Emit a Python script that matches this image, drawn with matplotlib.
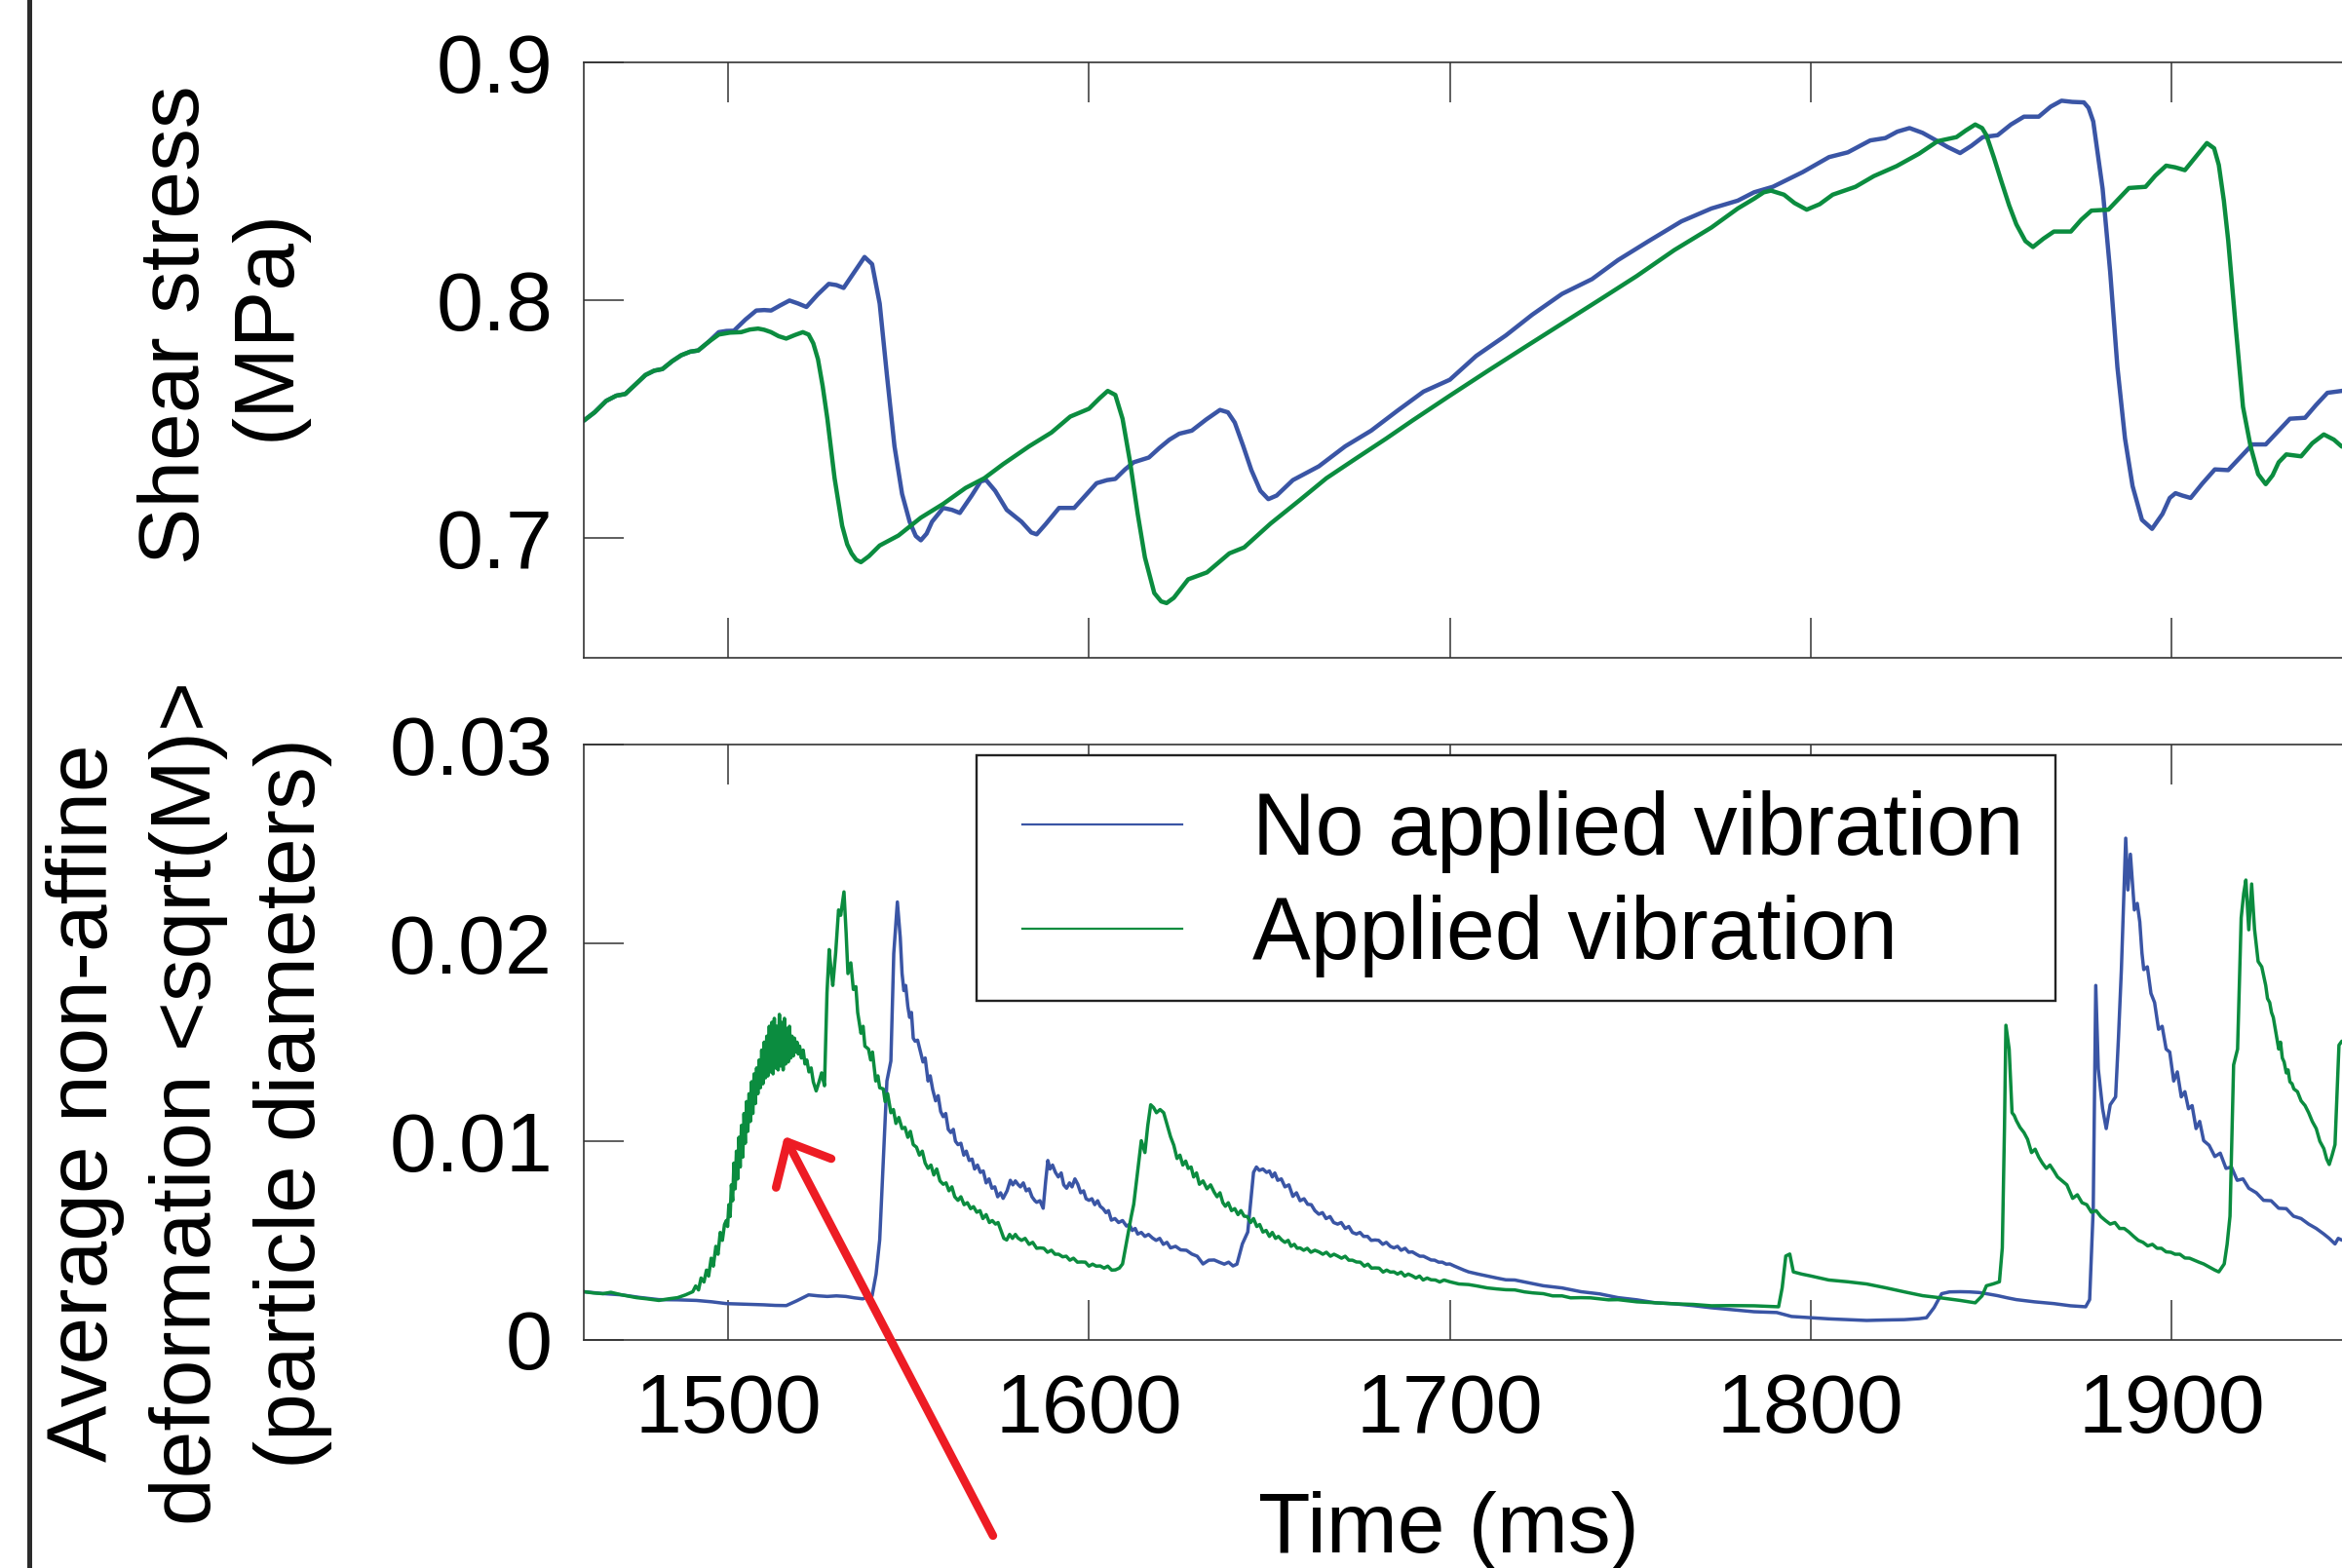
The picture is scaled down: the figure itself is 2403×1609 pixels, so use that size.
import matplotlib
matplotlib.use("Agg")
import matplotlib.pyplot as plt
from matplotlib.lines import Line2D
from matplotlib.patches import ArrowStyle, Rectangle

plt.rcParams['font.family'] = ['Liberation Sans', 'DejaVu Sans']

# ---------------- data (time ms, value) ----------------
series_labels = ["No applied vibration", "Applied vibration"]
colors = ["#3a55a5", "#0b8c3f"]

# top panel: shear stress (MPa)
stress_none = [
    (1460, 0.7495), (1463, 0.7530), (1466.2, 0.7578), (1469, 0.7600), (1471.5, 0.7607), (1474.5, 0.7650),
    (1477.1, 0.7687), (1479.5, 0.7705), (1481.8, 0.7712), (1484.5, 0.7745), (1487, 0.7770), (1489.5, 0.7785),
    (1491.7, 0.7790), (1494.5, 0.7825), (1497.4, 0.7867), (1499.5, 0.7872), (1501.6, 0.7873), (1504.8, 0.7920),
    (1507.8, 0.7958), (1510, 0.7960), (1511.9, 0.7958), (1514.5, 0.7980), (1517, 0.8000), (1519.3, 0.7988),
    (1521.7, 0.7973), (1524.8, 0.8025), (1527.9, 0.8070), (1530, 0.8065), (1532, 0.8053), (1535, 0.8120),
    (1537.8, 0.8183), (1539.9, 0.8153), (1542, 0.7987), (1544, 0.7687), (1546.1, 0.7387), (1548.2, 0.7187),
    (1550.3, 0.7070), (1552, 0.7010), (1553.4, 0.6992), (1555, 0.7020), (1556.5, 0.7070), (1559.6, 0.7128),
    (1562, 0.7120), (1564.2, 0.7107), (1567.5, 0.7180), (1570, 0.7240), (1571.5, 0.7245), (1574, 0.7200),
    (1577.2, 0.7120), (1581.3, 0.7070), (1584, 0.7025), (1585.5, 0.7017), (1588, 0.7060), (1591.7, 0.7128),
    (1595.9, 0.7128), (1599, 0.7180), (1602.1, 0.7232), (1605, 0.7245), (1607.3, 0.7250), (1610, 0.7290),
    (1612.4, 0.7320), (1616.6, 0.7340), (1619.5, 0.7380), (1622.3, 0.7415), (1625, 0.7440), (1628.5, 0.7453),
    (1632.5, 0.7500), (1636.3, 0.7540), (1638.5, 0.7530), (1640.4, 0.7487), (1642.7, 0.7390), (1645, 0.7287),
    (1647.5, 0.7200), (1649.7, 0.7165), (1652, 0.7180), (1656.5, 0.7245), (1663.7, 0.7303), (1671, 0.7387),
    (1678.2, 0.7453), (1685.5, 0.7537), (1692.7, 0.7617), (1700, 0.7667), (1707.3, 0.7767), (1715.5, 0.7853),
    (1722.8, 0.7940), (1731.1, 0.8028), (1739.4, 0.8090), (1746.6, 0.8170), (1754.9, 0.8248), (1764.2, 0.8333),
    (1772.5, 0.8387), (1779.8, 0.8420), (1784.3, 0.8455), (1789.5, 0.8478), (1797.8, 0.8540), (1805.1, 0.8603),
    (1810.3, 0.8623), (1816.5, 0.8673), (1820.7, 0.8683), (1824, 0.8710), (1827.4, 0.8725), (1831, 0.8705),
    (1834.2, 0.8678), (1838, 0.8645), (1841.4, 0.8620), (1844.5, 0.8650), (1847.7, 0.8687), (1851.8, 0.8695),
    (1855.5, 0.8740), (1859.1, 0.8773), (1863.2, 0.8773), (1866.5, 0.8815), (1869.5, 0.8840), (1872.5, 0.8835),
    (1875.7, 0.8833), (1877, 0.8810), (1878.3, 0.8753), (1880.9, 0.8470), (1883, 0.8120), (1885, 0.7720),
    (1887.1, 0.7420), (1889.2, 0.7220), (1891.8, 0.7078), (1894.6, 0.7040), (1897.5, 0.7103), (1899.5, 0.7170),
    (1901.1, 0.7190), (1903, 0.7180), (1905.3, 0.7170), (1908.5, 0.7230), (1912, 0.7290), (1915.7, 0.7287),
    (1919, 0.7340), (1922.4, 0.7395), (1926.1, 0.7395), (1929.5, 0.7450), (1932.8, 0.7503), (1937, 0.7507),
    (1940, 0.7560), (1943.2, 0.7612), (1947.1, 0.7620), (1950, 0.7625)]

stress_vib = [
    (1460, 0.7495), (1463, 0.7530), (1466.2, 0.7578), (1469, 0.7600), (1471.5, 0.7607), (1474.5, 0.7650),
    (1477.1, 0.7687), (1479.5, 0.7705), (1481.8, 0.7712), (1484.5, 0.7745), (1487, 0.7770), (1489.5, 0.7785),
    (1491.7, 0.7790), (1494.5, 0.7825), (1497.4, 0.7857), (1500.5, 0.7865), (1503.6, 0.7867), (1506, 0.7878),
    (1508.3, 0.7882), (1510, 0.7877), (1511.9, 0.7867), (1514, 0.7850), (1516.1, 0.7840), (1518.5, 0.7855),
    (1520.7, 0.7867), (1522.3, 0.7857), (1523.6, 0.7820), (1524.9, 0.7753), (1526.2, 0.7640), (1527.5, 0.7503),
    (1529.5, 0.7253), (1531.6, 0.7053), (1533, 0.6975), (1534.2, 0.6937), (1535.5, 0.6910), (1536.8, 0.6900),
    (1539, 0.6925), (1542, 0.6970), (1547.2, 0.7012), (1553.4, 0.7087), (1559.6, 0.7145), (1565.8, 0.7212),
    (1571, 0.7253), (1576.2, 0.7312), (1583.4, 0.7387), (1589.6, 0.7445), (1594.8, 0.7512), (1600, 0.7545),
    (1603, 0.7590), (1605.2, 0.7620), (1607.3, 0.7603), (1609.3, 0.7503), (1611.4, 0.7320), (1613.5, 0.7103),
    (1615.5, 0.6920), (1618.1, 0.6770), (1620, 0.6735), (1621.5, 0.6728), (1623.5, 0.6750), (1627.5, 0.6828),
    (1632.7, 0.6857), (1638.9, 0.6937), (1643, 0.6962), (1650.3, 0.7062), (1658.5, 0.7162), (1665.8, 0.7253),
    (1674.1, 0.7337), (1682.4, 0.7420), (1689.6, 0.7495), (1700, 0.7600), (1710.4, 0.7703), (1720.7, 0.7803),
    (1731.1, 0.7903), (1741.5, 0.8003), (1751.8, 0.8103), (1762.2, 0.8212), (1772.5, 0.8307), (1779.8, 0.8387),
    (1784.3, 0.8428), (1787, 0.8455), (1789, 0.8462), (1792.6, 0.8445), (1795.5, 0.8410), (1798.9, 0.8382),
    (1802.5, 0.8405), (1806.1, 0.8445), (1812.4, 0.8478), (1817.5, 0.8523), (1823.8, 0.8565), (1830, 0.8617),
    (1835.2, 0.8670), (1840.4, 0.8687), (1843, 0.8715), (1845.6, 0.8740), (1847.5, 0.8725), (1848.7, 0.8695),
    (1850.8, 0.8600), (1852.8, 0.8503), (1855, 0.8400), (1857, 0.8320), (1859.5, 0.8250), (1861.6, 0.8225),
    (1864.5, 0.8260), (1867.4, 0.8290), (1872.1, 0.8290), (1875, 0.8340), (1877.8, 0.8378), (1882.5, 0.8382),
    (1885.5, 0.8430), (1888.2, 0.8473), (1892.8, 0.8478), (1895.5, 0.8525), (1898.5, 0.8567), (1901, 0.8560),
    (1903.7, 0.8548), (1907, 0.8610), (1909.8, 0.8662), (1911.8, 0.8640), (1913.1, 0.8570), (1914.5, 0.8420),
    (1915.7, 0.8253), (1917.8, 0.7887), (1919.8, 0.7553), (1921.9, 0.7387), (1924, 0.7270), (1926.1, 0.7228),
    (1928, 0.7265), (1929.7, 0.7320), (1931.8, 0.7353), (1935.9, 0.7345), (1939, 0.7400), (1942.2, 0.7437),
    (1945, 0.7415), (1947.1, 0.7387), (1950, 0.7370)]

# bottom panel: average non-affine deformation (particle diameters)
deform_none = [
    (1460, 0.00241), (1465, 0.00232), (1470.5, 0.00225), (1475.5, 0.00212), (1480.8, 0.00201), (1486, 0.00200),
    (1491.2, 0.00197), (1495.5, 0.00190), (1499.5, 0.00181), (1504.5, 0.00178), (1509.8, 0.00175),
    (1513, 0.00172), (1516.1, 0.00171), (1519, 0.00195), (1522.3, 0.00225), (1525, 0.00220), (1527.5, 0.00217),
    (1530, 0.00220), (1532.6, 0.00217), (1535, 0.00210), (1537.3, 0.00205), (1539.9, 0.00221), (1541.0, 0.00330),
    (1542.0, 0.00502), (1543.0, 0.00903), (1544.0, 0.01304), (1545.1, 0.01405), (1545.9, 0.01947),
    (1546.9, 0.02207), (1547.7, 0.02027), (1548.2, 0.01846), (1548.7, 0.0176), (1549.2, 0.01786),
    (1549.8, 0.0168), (1550.3, 0.01625), (1550.8, 0.0165), (1551.3, 0.0152), (1551.8, 0.01505), (1552.5, 0.0151),
    (1553.4, 0.01445), (1554.0, 0.0140), (1554.6, 0.0142), (1555.4, 0.01304), (1556.0, 0.0133), (1556.7, 0.0126),
    (1557.5, 0.01204), (1558.2, 0.0123), (1558.9, 0.0115), (1559.6, 0.01124), (1560.3, 0.0114), (1561.0, 0.0106),
    (1561.7, 0.01044), (1562.4, 0.0106), (1563.0, 0.0100), (1563.7, 0.00983), (1564.5, 0.0099), (1565.3, 0.0093),
    (1566.0, 0.0095), (1566.8, 0.00903), (1567.6, 0.0091), (1568.3, 0.0086), (1569.1, 0.0088), (1569.9, 0.00843),
    (1570.7, 0.0085), (1571.5, 0.0079), (1572.3, 0.0081), (1573.1, 0.00763), (1573.9, 0.0077), (1574.7, 0.0072),
    (1575.5, 0.0074), (1576.2, 0.00712), (1577.3, 0.0075), (1578.2, 0.00803), (1578.9, 0.0078), (1579.6, 0.0080),
    (1580.3, 0.00783), (1581.0, 0.0077), (1581.8, 0.0079), (1582.6, 0.0075), (1583.4, 0.0076), (1584.2, 0.0072),
    (1585.0, 0.0070), (1585.5, 0.00692), (1586.4, 0.0070), (1587.3, 0.00662), (1588.0, 0.0080), (1588.6, 0.00903),
    (1589.2, 0.0086), (1589.9, 0.0088), (1590.7, 0.00843), (1591.5, 0.0082), (1592.3, 0.0084), (1593.0, 0.0078),
    (1593.8, 0.00763), (1594.6, 0.0079), (1595.3, 0.0077), (1596.1, 0.0081), (1596.9, 0.00783), (1597.7, 0.0074),
    (1598.5, 0.0075), (1599.2, 0.0071), (1600, 0.00702), (1600.8, 0.0071), (1601.6, 0.0068), (1602.4, 0.0070),
    (1603.1, 0.00672), (1603.9, 0.0066), (1604.7, 0.0064), (1605.4, 0.0065), (1606.2, 0.00602), (1607.2, 0.0061),
    (1608.2, 0.0059), (1609.3, 0.0060), (1610.4, 0.00572), (1611.2, 0.0058), (1612.0, 0.0055), (1612.8, 0.0056),
    (1613.5, 0.00532), (1614.5, 0.0054), (1615.5, 0.0052), (1616.5, 0.0053), (1617.6, 0.00512), (1618.6, 0.0050),
    (1619.6, 0.0051), (1620.6, 0.0048), (1621.6, 0.0049), (1622.6, 0.00462), (1624, 0.0047), (1625.4, 0.00452),
    (1627, 0.0045), (1628.5, 0.00431), (1630, 0.0042), (1631.6, 0.00381), (1633.2, 0.0040), (1634.7, 0.00401),
    (1636.1, 0.0039), (1637.5, 0.00380), (1638.7, 0.0039), (1639.9, 0.00371), (1641, 0.00380), (1642.5, 0.00482),
    (1644, 0.00542), (1645.6, 0.00843), (1646.4, 0.0087), (1647.2, 0.00853), (1648.2, 0.0086), (1649.2, 0.00843),
    (1650, 0.0085), (1650.8, 0.0082), (1651.5, 0.0084), (1652.3, 0.00803), (1653.3, 0.0081), (1654.3, 0.0077),
    (1655.4, 0.0078), (1656.5, 0.00722), (1657.5, 0.0074), (1658.5, 0.0070), (1659.6, 0.0071), (1660.6, 0.00682),
    (1661.6, 0.0068), (1662.6, 0.0065), (1663.7, 0.00632), (1664.7, 0.0064), (1665.7, 0.0061), (1666.8, 0.0062),
    (1667.8, 0.0059), (1668.9, 0.00582), (1669.9, 0.0059), (1671, 0.0056), (1672, 0.0057), (1673, 0.0054),
    (1674.1, 0.00532), (1675.1, 0.0054), (1676.1, 0.0052), (1677.2, 0.0052), (1678.2, 0.0050), (1679.3, 0.00502),
    (1680.3, 0.0050), (1681.4, 0.0048), (1682.4, 0.0049), (1683.5, 0.0047), (1684.5, 0.00462), (1685.5, 0.0047),
    (1686.5, 0.0045), (1687.6, 0.0046), (1688.6, 0.0044), (1689.6, 0.00442), (1690.7, 0.0043), (1691.7, 0.0042),
    (1692.7, 0.0042), (1693.8, 0.0041), (1694.8, 0.00401), (1695.8, 0.0040), (1696.9, 0.0039), (1697.9, 0.0039),
    (1699, 0.0038), (1700, 0.00381), (1701.3, 0.0037), (1702.6, 0.0036), (1703.9, 0.0035), (1705.2, 0.00341),
    (1707.8, 0.0033), (1710.4, 0.0032), (1713, 0.0031), (1715.5, 0.00301), (1718, 0.0030), (1720.7, 0.0029),
    (1725.9, 0.00271), (1731.1, 0.0026), (1736.3, 0.00241), (1741.5, 0.0023), (1746.6, 0.00211), (1751.8, 0.0020),
    (1757, 0.00185), (1762.2, 0.0018), (1767.4, 0.00171), (1772.5, 0.0016), (1777.7, 0.00151), (1784.3, 0.0014),
    (1790.6, 0.00136), (1794.7, 0.00116), (1800, 0.0011), (1805.1, 0.00104), (1810, 0.0010), (1815.5, 0.00096),
    (1820, 0.00098), (1825.9, 0.0010), (1830, 0.00105), (1832.1, 0.0011), (1834.2, 0.00161), (1836.3, 0.00231),
    (1838.5, 0.0024), (1841.4, 0.00241), (1844, 0.0024), (1846.6, 0.00237), (1849, 0.0023), (1851.8, 0.00221),
    (1854.5, 0.0021), (1857, 0.00201), (1862, 0.0019), (1867.4, 0.00181), (1872, 0.0017), (1876.2, 0.00165),
    (1877.3, 0.00201), (1878.3, 0.00662), (1879.0, 0.01786), (1879.7, 0.01365), (1880.9, 0.01164),
    (1881.9, 0.01064), (1883.0, 0.01184), (1884.5, 0.01224), (1885.3, 0.01525), (1886.1, 0.01866),
    (1887.3, 0.02529), (1887.9, 0.02268), (1888.6, 0.02448), (1889.7, 0.02167), (1890.5, 0.0220),
    (1891.2, 0.02107), (1891.8, 0.0195), (1892.3, 0.01866), (1893.3, 0.0188), (1894.3, 0.01746), (1895.3, 0.0170),
    (1896.4, 0.01565), (1897.4, 0.0158), (1898.5, 0.01465), (1899.5, 0.0145), (1900.6, 0.01304), (1901.6, 0.0135),
    (1902.7, 0.01224), (1903.7, 0.0125), (1904.7, 0.01164), (1905.7, 0.0118), (1906.8, 0.01064), (1907.8, 0.0110),
    (1908.9, 0.01003), (1910.4, 0.0098), (1912, 0.00923), (1913.5, 0.0094), (1915.1, 0.00863), (1916.6, 0.0087),
    (1918.2, 0.00803), (1919.8, 0.0081), (1921.4, 0.00763), (1923.5, 0.0074), (1925.5, 0.00702), (1927.6, 0.0070),
    (1929.7, 0.00662), (1931.8, 0.0066), (1933.8, 0.00622), (1935.9, 0.0061), (1938, 0.00582), (1940.1, 0.0056),
    (1942.2, 0.00532), (1943.7, 0.0051), (1945.3, 0.00482), (1946.2, 0.0051), (1947.1, 0.00502), (1950, 0.0049)]

deform_vib = [
    (1460, 0.00241), (1462.5, 0.00235), (1465.3, 0.00231), (1467.5, 0.00238), (1470.5, 0.00225), (1472.5, 0.00218),
    (1474.6, 0.00211), (1477.5, 0.00205), (1480.8, 0.00197), (1483.5, 0.00205), (1486, 0.00211), (1488.2, 0.00225),
    (1490.2, 0.00241), (1491.0, 0.0027), (1491.8, 0.0025), (1492.5, 0.0031), (1493.3, 0.0029), (1494.0, 0.0035),
    (1494.6, 0.0032), (1495.3, 0.0041), (1495.9, 0.0037), (1496.6, 0.0047), (1497.2, 0.0043), (1497.8, 0.0054),
    (1498.4, 0.0050), (1499.0, 0.0058), (1499.5, 0.0060), (1499.85, 0.0057), (1500.2, 0.0068), (1500.55, 0.0062),
    (1500.9, 0.0078), (1501.25, 0.0070), (1501.6, 0.0089), (1501.95, 0.0076), (1502.3, 0.0095), (1502.65, 0.0081),
    (1503.0, 0.0102), (1503.35, 0.0087), (1503.7, 0.0108), (1504.05, 0.0092), (1504.4, 0.0114), (1504.75, 0.0099),
    (1505.1, 0.0120), (1505.45, 0.0105), (1505.8, 0.0124), (1506.15, 0.0110), (1506.5, 0.0130), (1506.85, 0.0114),
    (1507.2, 0.0134), (1507.55, 0.0119), (1507.9, 0.0137), (1508.25, 0.0124), (1508.6, 0.0141), (1508.95, 0.0127),
    (1509.3, 0.0146), (1509.65, 0.0129), (1510.0, 0.0150), (1510.35, 0.0132), (1510.7, 0.0153), (1511.05, 0.0133),
    (1511.4, 0.0158), (1511.75, 0.0135), (1512.1, 0.0160), (1512.45, 0.0134), (1512.8, 0.0162), (1513.15, 0.0137),
    (1513.5, 0.0158), (1513.85, 0.0136), (1514.2, 0.0164), (1514.55, 0.0138), (1514.9, 0.0160), (1515.25, 0.0136),
    (1515.6, 0.0162), (1515.95, 0.0139), (1516.3, 0.0157), (1516.65, 0.0140), (1517.0, 0.0158), (1517.35, 0.0142),
    (1517.7, 0.0153), (1518.05, 0.0143), (1518.4, 0.0152), (1518.75, 0.0145), (1519.1, 0.0150), (1519.45, 0.0144),
    (1519.8, 0.0148), (1520.3, 0.0142), (1520.8, 0.0146), (1521.3, 0.0139), (1521.8, 0.0141), (1522.4, 0.0135),
    (1523.0, 0.0137), (1523.6, 0.0130), (1524.4, 0.01254), (1525.2, 0.0130), (1525.9, 0.01345), (1526.7, 0.0128),
    (1527.4, 0.0175), (1528.0, 0.01967), (1528.6, 0.0185), (1529.0, 0.01786), (1529.8, 0.0195), (1530.6, 0.02167),
    (1531.2, 0.0214), (1532.1, 0.02258), (1532.7, 0.0205), (1533.2, 0.01846), (1534.0, 0.0190), (1534.7, 0.01766),
    (1535.4, 0.0178), (1535.9, 0.0165), (1536.8, 0.01545), (1537.4, 0.0158), (1537.9, 0.0148), (1538.9, 0.01465),
    (1539.5, 0.0141), (1540.0, 0.0145), (1540.9, 0.01304), (1541.5, 0.0133), (1542.0, 0.0127), (1543.0, 0.01264),
    (1543.5, 0.0120), (1544.2, 0.0124), (1545.1, 0.01144), (1545.8, 0.0116), (1546.5, 0.0109), (1547.3, 0.0112),
    (1548.2, 0.01064), (1549.0, 0.0107), (1549.8, 0.0102), (1550.5, 0.0105), (1551.3, 0.00983), (1552.2, 0.0097),
    (1553.0, 0.0093), (1553.8, 0.0095), (1554.6, 0.0089), (1555.4, 0.00863), (1556.2, 0.0088), (1557.0, 0.0083),
    (1557.8, 0.0086), (1558.7, 0.0080), (1559.6, 0.00783), (1560.4, 0.0079), (1561.2, 0.0075), (1562.0, 0.0077),
    (1562.8, 0.0072), (1563.7, 0.00702), (1564.5, 0.0072), (1565.4, 0.0068), (1566.3, 0.0069), (1567.2, 0.0066),
    (1568.0, 0.0067), (1568.9, 0.00642), (1569.8, 0.0065), (1570.6, 0.0061), (1571.5, 0.0063), (1572.4, 0.0059),
    (1573.2, 0.0060), (1574.1, 0.00582), (1574.8, 0.0059), (1575.6, 0.0055), (1576.4, 0.0051), (1577.2, 0.00502),
    (1578.0, 0.0053), (1578.8, 0.0051), (1579.6, 0.0053), (1580.3, 0.00512), (1581.3, 0.0050), (1582.3, 0.0051),
    (1583.4, 0.0048), (1584.4, 0.0049), (1585.5, 0.0046), (1586.5, 0.00462), (1587.5, 0.0046), (1588.5, 0.0044),
    (1589.6, 0.0045), (1590.6, 0.0043), (1591.6, 0.0043), (1592.7, 0.00417), (1593.7, 0.0042), (1594.7, 0.0040),
    (1595.7, 0.0041), (1596.8, 0.0039), (1597.9, 0.00391), (1599, 0.0039), (1600, 0.0037), (1601, 0.0038),
    (1602, 0.0037), (1603.1, 0.00371), (1604.2, 0.0036), (1605.2, 0.0037), (1606.3, 0.0035), (1607.3, 0.00351),
    (1608.4, 0.0036), (1609.3, 0.00381), (1610.1, 0.0046), (1610.9, 0.00542), (1611.7, 0.0062), (1612.4, 0.00682),
    (1613.5, 0.0085), (1614.5, 0.01003), (1615.5, 0.00943), (1616.3, 0.0108), (1617.1, 0.01184), (1617.9, 0.0117),
    (1618.7, 0.01144), (1619.7, 0.0116), (1620.7, 0.01144), (1621.7, 0.0108), (1622.6, 0.01023), (1623.5, 0.0098),
    (1624.4, 0.00913), (1625.2, 0.0093), (1626, 0.0088), (1626.8, 0.0090), (1627.5, 0.00863), (1628.3, 0.0087),
    (1629, 0.0082), (1629.8, 0.0084), (1630.6, 0.00783), (1631.6, 0.0080), (1632.7, 0.0076), (1633.7, 0.0078),
    (1634.7, 0.00743), (1635.5, 0.0072), (1636.3, 0.0074), (1637.1, 0.0069), (1637.8, 0.00672), (1638.6, 0.0069),
    (1639.5, 0.0065), (1640.4, 0.0066), (1641.3, 0.0063), (1642.1, 0.0065), (1643, 0.00622), (1643.9, 0.0062),
    (1644.8, 0.0059), (1645.6, 0.0061), (1646.5, 0.0057), (1647.3, 0.0058), (1648.2, 0.00542), (1649.1, 0.0055),
    (1650, 0.0052), (1650.8, 0.0054), (1651.7, 0.0051), (1652.5, 0.0052), (1653.4, 0.00502), (1654.3, 0.0049),
    (1655.2, 0.0050), (1656, 0.0047), (1656.9, 0.0048), (1657.7, 0.0046), (1658.5, 0.00462), (1659.5, 0.0045),
    (1660.5, 0.0046), (1661.5, 0.0044), (1662.6, 0.0045), (1663.7, 0.00442), (1664.8, 0.0043), (1665.8, 0.0044),
    (1666.9, 0.0042), (1667.9, 0.0043), (1668.9, 0.00421), (1670, 0.0041), (1671, 0.0042), (1672, 0.0040),
    (1673, 0.0040), (1674.1, 0.00391), (1675.2, 0.0039), (1676.3, 0.0037), (1677.3, 0.0038), (1678.3, 0.0036),
    (1679.3, 0.00361), (1680.4, 0.0036), (1681.5, 0.0034), (1682.5, 0.0035), (1683.5, 0.0034), (1684.5, 0.00341),
    (1685.5, 0.0033), (1686.5, 0.0034), (1687.5, 0.0032), (1688.5, 0.0033), (1689.6, 0.00321), (1690.6, 0.0031),
    (1691.6, 0.0032), (1692.6, 0.0030), (1693.7, 0.0031), (1694.8, 0.00301), (1696, 0.0030), (1697.2, 0.0029),
    (1698.4, 0.0030), (1700, 0.00291), (1702.5, 0.0028), (1705.2, 0.00277), (1707.5, 0.0027), (1710.4, 0.0026),
    (1713, 0.00255), (1715.5, 0.00251), (1718, 0.0025), (1720.7, 0.0024), (1723, 0.00235), (1725.9, 0.00231),
    (1728.5, 0.0022), (1731.1, 0.0022), (1733.5, 0.0021), (1736.3, 0.00211), (1739, 0.0021), (1741.5, 0.00205),
    (1744, 0.0020), (1746.6, 0.00201), (1751.8, 0.0019), (1757, 0.00185), (1762.2, 0.0018), (1767.4, 0.00177),
    (1772.5, 0.0017), (1777.7, 0.00171), (1784.3, 0.0017), (1791.1, 0.00165), (1792.1, 0.00261), (1793.1, 0.00421),
    (1794.2, 0.00431), (1795.2, 0.00341), (1797.5, 0.0033), (1799.9, 0.00321), (1805, 0.0030), (1810.3, 0.00291),
    (1815.5, 0.0028), (1820.7, 0.00261), (1826, 0.0024), (1831, 0.00221), (1836, 0.0021), (1841.4, 0.00197),
    (1845.6, 0.00185), (1847.5, 0.0022), (1848.7, 0.00271), (1850.5, 0.0028), (1852.3, 0.00291), (1853.1, 0.00462),
    (1853.7, 0.01064), (1854.1, 0.01585), (1855.0, 0.01465), (1855.8, 0.01144), (1856.4, 0.0113), (1857, 0.01104),
    (1858, 0.0107), (1859.1, 0.01044), (1860.1, 0.0101), (1861.2, 0.00943), (1862.2, 0.0096), (1863.2, 0.0092),
    (1864.2, 0.0089), (1865.3, 0.00863), (1866.3, 0.0088), (1867.4, 0.0085), (1868.4, 0.0082), (1869.5, 0.00803),
    (1871, 0.0078), (1872.6, 0.00712), (1873.9, 0.0073), (1875.2, 0.0069), (1876.5, 0.0068), (1877.8, 0.00642),
    (1879.1, 0.0065), (1880.4, 0.0062), (1881.7, 0.0060), (1883, 0.00582), (1884.3, 0.0059), (1885.6, 0.0056),
    (1886.9, 0.0056), (1888.2, 0.00542), (1889.5, 0.0052), (1890.8, 0.0050), (1892.1, 0.0049), (1893.4, 0.00472),
    (1894.7, 0.0048), (1896, 0.0046), (1897.2, 0.0046), (1898.5, 0.00442), (1899.8, 0.0044), (1901, 0.0043),
    (1902.3, 0.0043), (1903.7, 0.00411), (1905, 0.0041), (1906.3, 0.0040), (1907.6, 0.0039), (1908.9, 0.00381),
    (1910, 0.0037), (1911, 0.0036), (1912, 0.0035), (1913.1, 0.00341), (1914.6, 0.00381), (1915.4, 0.0048),
    (1916.2, 0.00622), (1916.7, 0.0100), (1917.2, 0.01385), (1918.3, 0.01465), (1919.3, 0.02127), (1920.0, 0.0225),
    (1920.6, 0.02318), (1921.4, 0.02067), (1922.2, 0.02298), (1923.0, 0.0207), (1924.0, 0.01907), (1925, 0.0188),
    (1926.1, 0.01786), (1926.6, 0.0172), (1927.2, 0.0170), (1927.7, 0.0165), (1928.2, 0.01625), (1928.9, 0.0155),
    (1929.7, 0.01465), (1930.2, 0.0150), (1930.7, 0.0142), (1931.2, 0.0140), (1931.8, 0.01345), (1932.3, 0.0136),
    (1932.8, 0.0130), (1933.4, 0.0129), (1933.9, 0.01264), (1934.9, 0.0125), (1935.9, 0.01204), (1937, 0.0118),
    (1938, 0.01144), (1939, 0.0110), (1940.1, 0.01064), (1941.1, 0.0100), (1942.2, 0.00963), (1943, 0.0091),
    (1943.7, 0.00883), (1944.5, 0.0093), (1945.3, 0.00983), (1946.0, 0.0130), (1946.4, 0.01485), (1947.2, 0.01505),
    (1950, 0.0148)]

x_ticks = [1500, 1600, 1700, 1800, 1900]
x_tick_labels = ["1500", "1600", "1700", "1800", "1900"]
stress_ticks = [0.7, 0.8, 0.9]
stress_tick_labels = ["0.7", "0.8", "0.9"]
deform_ticks = [0, 0.01, 0.02, 0.03]
deform_tick_labels = ["0", "0.01", "0.02", "0.03"]

# ---------------- figure ----------------
W, H = 2403, 1609
DPI = 100
fig = plt.figure(figsize=(W / DPI, H / DPI), dpi=DPI)

def px_rect(left, top, right, bottom):
    return [left / W, 1 - bottom / H, (right - left) / W, (bottom - top) / H]

XMIN, XMAX = 1460, 1950
px_per_ms = 3.7025
ax_left = 599
ax_right = ax_left + (XMAX - XMIN) * px_per_ms

ax1 = fig.add_axes(px_rect(ax_left, 64.3, ax_right, 674.5))
ax2 = fig.add_axes(px_rect(ax_left, 764.3, ax_right, 1374.5))

spine_col = "#333333"
tick_fs = 62
label_fs = 63

for ax in (ax1, ax2):
    for sp in ax.spines.values():
        sp.set_color(spine_col)
        sp.set_linewidth(1.2)
    ax.spines['right'].set_visible(False)
    ax.set_xlim(XMIN, XMAX)
    ax.set_xticks(x_ticks)
    ax.tick_params(axis='both', direction='in', length=29.5, width=1.1, color=spine_col,
                   labelsize=tick_fs, top=True, right=False)
    ax.tick_params(axis='y', pad=23)
    ax.tick_params(axis='x', pad=24)

def unzip(pairs):
    return [p[0] for p in pairs], [p[1] for p in pairs]

for data, c in ((stress_none, colors[0]), (stress_vib, colors[1])):
    t, v = unzip(data)
    ax1.plot(t, v, color=c, lw=3.2, solid_joinstyle='round', solid_capstyle='round')
ax1.set_ylim(0.65, 0.9)
ax1.set_yticks(stress_ticks)
ax1.set_yticklabels(stress_tick_labels)
ax1.tick_params(axis='x', labelbottom=False)

for data, c in ((deform_none, colors[0]), (deform_vib, colors[1])):
    t, v = unzip(data)
    ax2.plot(t, v, color=c, lw=2.5, solid_joinstyle='round')
ax2.set_ylim(0, 0.03)
ax2.set_yticks(deform_ticks)
ax2.set_yticklabels(deform_tick_labels)
ax2.set_xticklabels(x_tick_labels)

# legend: frame drawn as its own rectangle, entries placed inside it
legend_fs = 64.5
frame = Rectangle((1002 / W, 1 - 1027 / H), (2109 - 1002) / W, (1027 - 775) / H,
                  transform=fig.transFigure, facecolor="white", edgecolor="#222222",
                  linewidth=1.7, zorder=4)
fig.add_artist(frame)
handles = [Line2D([], [], color=c, lw=1.6) for c in colors]
leg = fig.legend(handles, series_labels, loc='upper left',
                 bbox_to_anchor=(1049 / W, 1 - 811 / H), bbox_transform=fig.transFigure,
                 borderaxespad=0, fontsize=legend_fs, frameon=False,
                 handlelength=1.83, handletextpad=0.8, borderpad=0, labelspacing=0.25)
leg.set_zorder(5)

# axis labels
fig.text(228 / W, 1 - 333 / H, "Shear stress\n(MPa)", rotation=90, ha='center', va='center',
         fontsize=label_fs, multialignment='center', linespacing=1.18)
fig.text(194 / W, 1 - 1132 / H, "Average non-affine\ndeformation <sqrt(M)>\n(particle diameters)",
         rotation=90, ha='center', va='center', fontsize=label_fs, multialignment='center', linespacing=1.4)
fig.text(1486 / W, 1 - 1593 / H, "Time (ms)", ha='center', va='baseline', fontsize=label_fs)

# red annotation arrow
ax2.annotate("", xy=(1515.6, 0.01025), xytext=(1573.4, -0.0099), annotation_clip=False,
             arrowprops=dict(arrowstyle=ArrowStyle('->', head_length=1.3, head_width=1.15),
                             mutation_scale=20, color="#ed1c24", lw=6.2, shrinkA=0, shrinkB=0))

# left border line
fig.add_artist(Line2D([30.5 / W, 30.5 / W], [0, 1], transform=fig.transFigure, color="#2b2b2b", lw=3.6))

fig.savefig("out.png", dpi=DPI)
